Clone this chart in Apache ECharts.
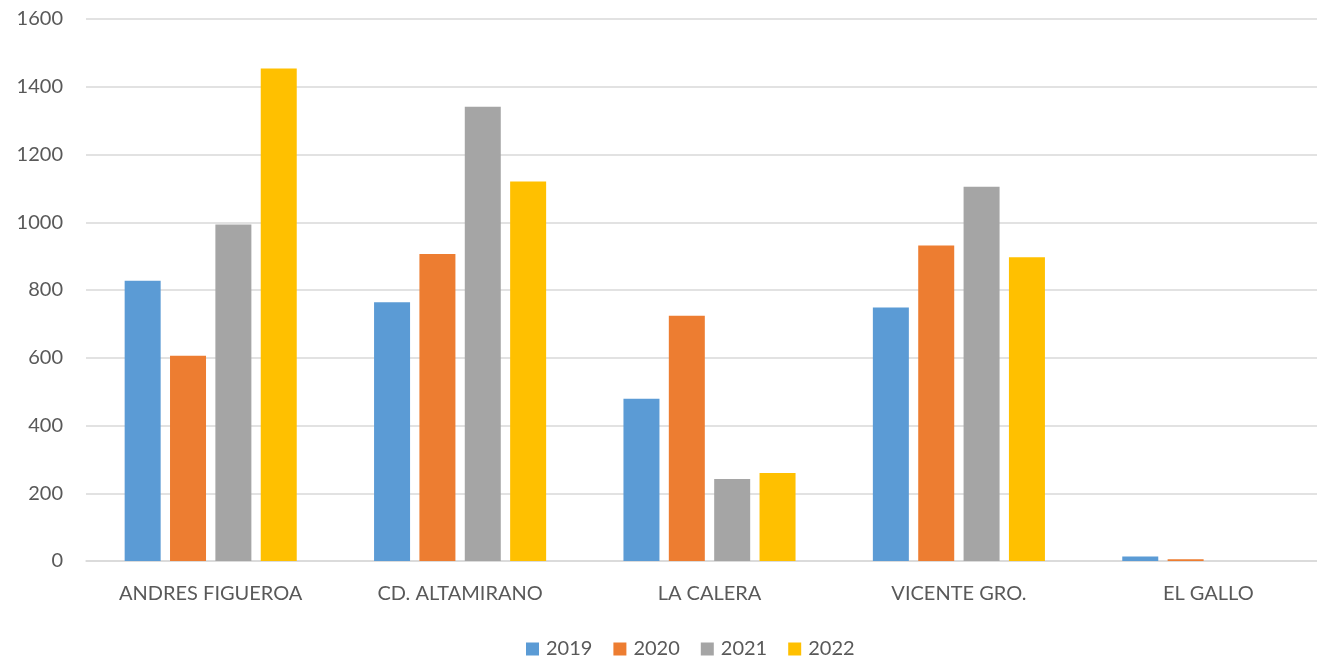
<!DOCTYPE html>
<html>
<head>
<meta charset="utf-8">
<script src="https://cdn.jsdelivr.net/npm/echarts@6/dist/echarts.min.js"></script>
<style>
  html, body { margin: 0; padding: 0; background: #fff; overflow: hidden; }
  /* chart a bit wider than the window: the plot area runs past the right edge */
  #chart { width: 1333px; height: 657px; }
</style>
</head>
<body>
<div id="chart"></div>
<script>
// categories and yearly values
const categories = ['ANDRES FIGUEROA', 'CD. ALTAMIRANO', 'LA CALERA', 'VICENTE GRO.', 'EL GALLO'];
const years = ['2019', '2020', '2021', '2022'];
const values2019 = [827, 764, 479, 748, 13];
const values2020 = [606, 906, 724, 931, 5];
const values2021 = [993, 1341, 242, 1105, 0];
const values2022 = [1454, 1120, 260, 897, 0];
const colors = ['#5B9BD5', '#ED7D31', '#A5A5A5', '#FFC000'];

const chart = echarts.init(document.getElementById('chart'));

const seriesData = [values2019, values2020, values2021, values2022];
const textColor = '#595959';
const fontFamily = 'Lato, "Noto Sans", sans-serif';

const option = {
    animation: false,
    textStyle: { fontFamily: fontFamily },
    grid: {
        left: 86,
        right: 0,
        top: 19,
        bottom: 96
    },
    legend: {
        top: 634,
        left: 521,
        itemWidth: 13,
        itemHeight: 13,
        itemGap: 21,
        icon: 'rect',
        textStyle: { color: textColor, fontSize: 20, fontFamily: fontFamily, padding: [0, 0, 0, 2] }
    },
    xAxis: {
        type: 'category',
        data: categories,
        axisLine: { show: true, lineStyle: { color: '#d9d9d9', width: 1.5 } },
        axisTick: { show: false },
        axisLabel: { color: textColor, fontSize: 20, margin: 23 }
    },
    yAxis: {
        type: 'value',
        min: 0,
        max: 1600,
        interval: 200,
        axisLine: { show: false },
        axisTick: { show: false },
        axisLabel: { color: textColor, fontSize: 20, margin: 23, formatter: v => String(v) },
        splitLine: { lineStyle: { color: '#d9d9d9', width: 1.5 } }
    },
    series: years.map((y, i) => ({
        name: y,
        type: 'bar',
        data: seriesData[i],
        barWidth: 36,
        barGap: '26%',
        itemStyle: { color: colors[i] }
    }))
};

chart.setOption(option);
window.addEventListener('resize', chart.resize);
</script>
</body>
</html>
